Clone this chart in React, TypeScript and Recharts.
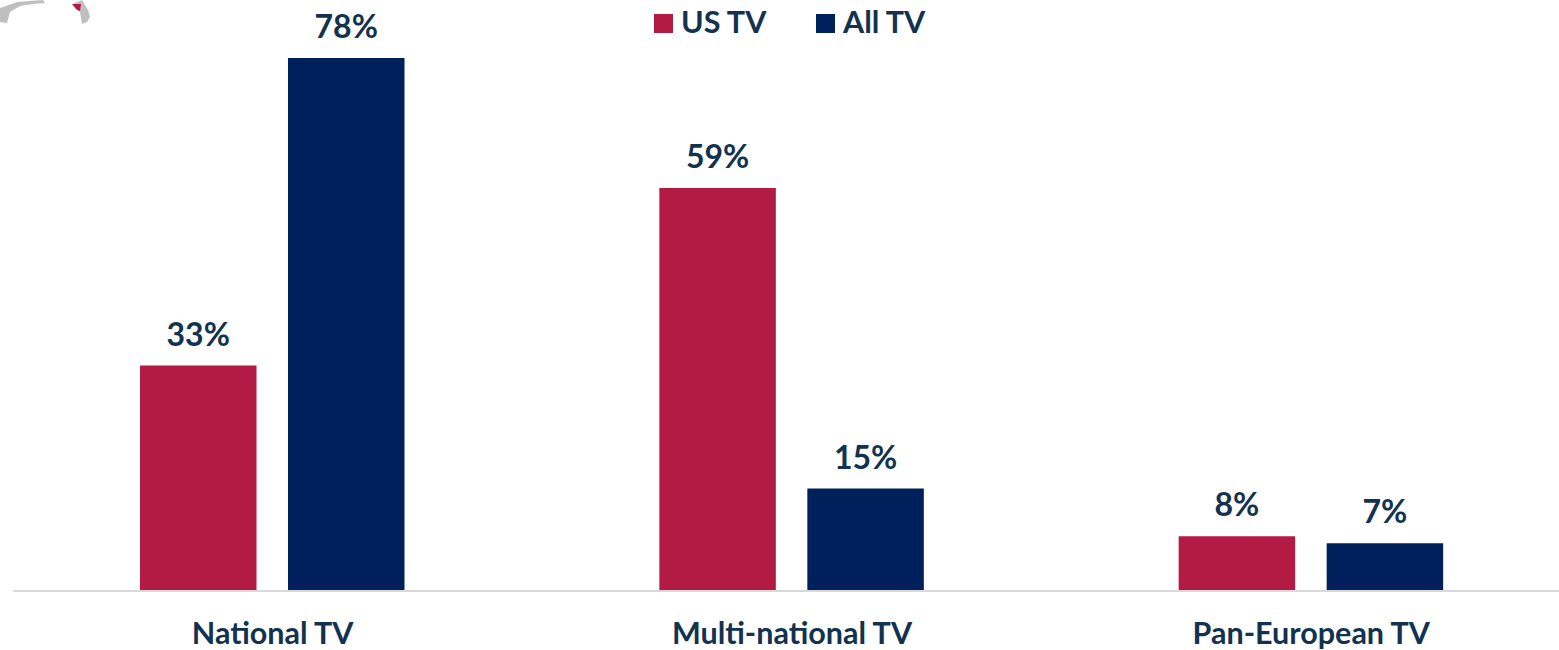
import { Bar, BarChart, LabelList, Legend, XAxis, YAxis } from 'recharts';

const categories = ['National TV', 'Multi-national TV', 'Pan-European TV'];
const usTv = [33, 59, 8];
const allTv = [78, 15, 7];

const RED = '#b31a44';
const NAVY = '#00205c';
const TEXT = '#12324f';
const FONT = 'Lato, sans-serif';

const data = categories.map((name, i) => ({ name, usTv: usTv[i], allTv: allTv[i] }));

const legendItems = [
  { label: 'US TV', color: RED, left: 654 },
  { label: 'All TV', color: NAVY, left: 816 }
];

const labelStyle = { fill: TEXT, fontSize: 32, fontWeight: 700, fontFamily: FONT };

const ChartLegend = () => (
  <div style={{ position: 'relative', height: 40, fontFamily: FONT }}>
    {legendItems.map((item) => (
      <div key={item.label} style={{ position: 'absolute', left: item.left, top: 14 }}>
        <div style={{ position: 'absolute', left: 0, top: 0, width: 19, height: 19, background: item.color }} />
        <div
          style={{
            position: 'absolute',
            left: 27,
            top: -11,
            whiteSpace: 'nowrap',
            fontSize: 30.5,
            lineHeight: '36px',
            fontWeight: 700,
            color: TEXT
          }}
        >
          {item.label}
        </div>
      </div>
    ))}
  </div>
);

// leftover bit of a map in the top corner of the slide
const MapScrap = () => (
  <svg width={95} height={28} style={{ position: 'absolute', left: 0, top: 0 }}>
    <path d="M0 8 L17 2 L43 0 L45 3 L33 4 L20 6 L10 12 L7 23 L0 22 Z" fill="#bfbfbf" />
    <path d="M82 0 L88 10 L90 17 L87 22 L82 24 L80 12 L73 4 Z" fill="#bfbfbf" />
    <path d="M72 4 L81 4 L80 11 L77 10 Z" fill={RED} />
  </svg>
);

export default function App() {
  return (
    <div style={{ position: 'absolute', left: 0, top: 0, width: 1559, height: 650, overflow: 'hidden', background: '#fff' }}>
      <BarChart
        width={1571}
        height={650}
        data={data}
        margin={{ top: 4.4, right: 0, left: 13, bottom: 0 }}
        barSize={116.5}
        barGap={31.5}
      >
        <XAxis
          dataKey="name"
          height={59}
          tickLine={false}
          axisLine={{ stroke: '#d9d9d9', strokeWidth: 2 }}
          interval={0}
          tickMargin={25}
          tick={{ fill: TEXT, fontSize: 30.5, fontWeight: 700, fontFamily: FONT }}
        />
        <YAxis hide domain={[0, 80]} />
        <Legend verticalAlign="top" align="left" content={<ChartLegend />} wrapperStyle={{ left: 0, top: 0, width: 1559 }} />
        <Bar dataKey="usTv" name="US TV" fill={RED} isAnimationActive={false}>
          <LabelList dataKey="usTv" position="top" offset={20} formatter={(v: number) => `${v}%`} style={labelStyle} />
        </Bar>
        <Bar dataKey="allTv" name="All TV" fill={NAVY} isAnimationActive={false}>
          <LabelList dataKey="allTv" position="top" offset={20} formatter={(v: number) => `${v}%`} style={labelStyle} />
        </Bar>
      </BarChart>
      <MapScrap />
    </div>
  );
}
